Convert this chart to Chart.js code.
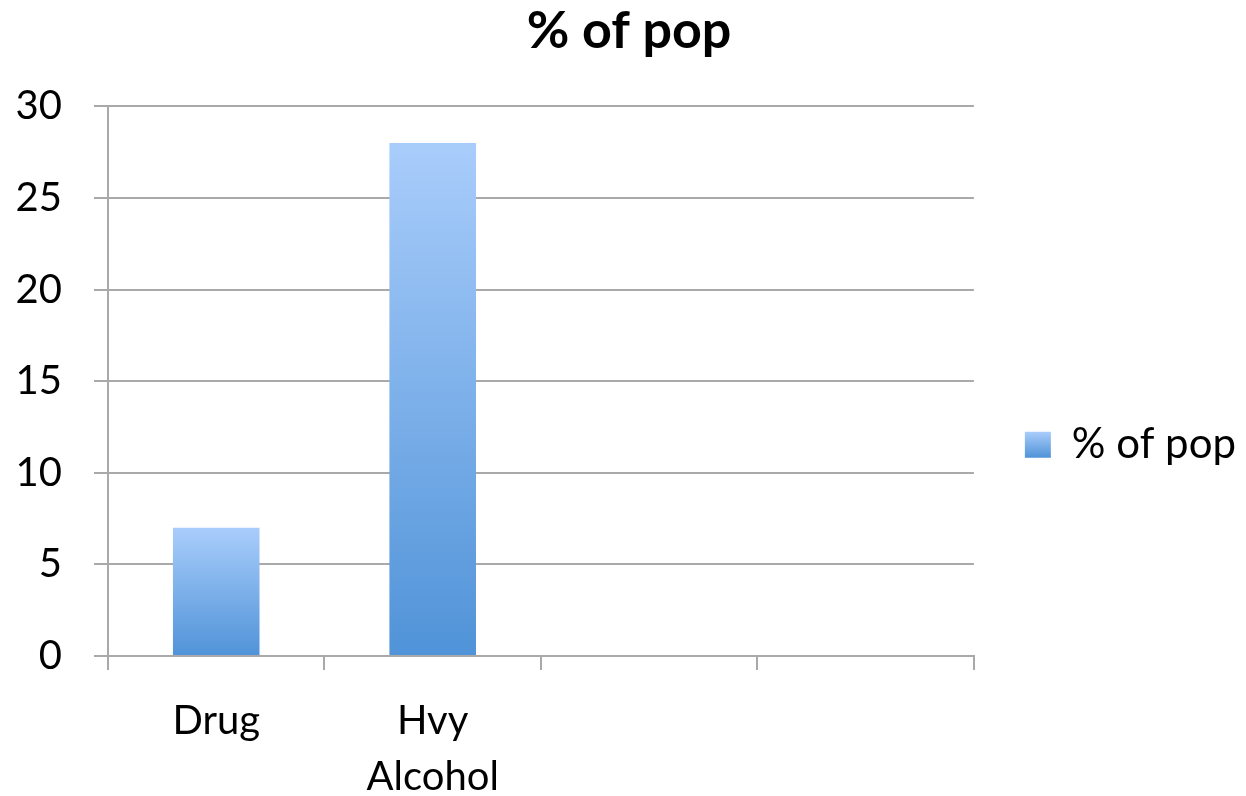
<!DOCTYPE html>
<html lang="en">
  <head>
    <meta charset="UTF-8" />
    <title>% of pop</title>
    <script src="https://cdn.jsdelivr.net/npm/chart.js@4/dist/chart.umd.min.js"></script>
    <style>
      body { margin: 0; background: #fff; }
      #wrap { width: 1246px; height: 796px; }
    </style>
  </head>
  <body>
    <div id="wrap">
      <canvas id="myChart" width="1246" height="796"></canvas>
    </div>

    <script>
      // data
      const categories = ["Drug", ["Hvy", "Alcohol"], "", ""];
      const pctOfPop = [7, 28, null, null];
      const seriesName = "% of pop";

      const topBlue = "#a9cdfb";
      const bottomBlue = "#5093d8";

      // vertical gradient running over one bar, light at the top
      function barGradient(context) {
        const chart = context.chart;
        const y = chart.scales.y;
        if (!y || !chart.chartArea) return bottomBlue;
        const v = context.raw;
        if (v == null) return bottomBlue;
        const top = y.getPixelForValue(v);
        const base = y.getPixelForValue(0);
        const g = chart.ctx.createLinearGradient(0, top, 0, base);
        g.addColorStop(0, topBlue);
        g.addColorStop(1, bottomBlue);
        return g;
      }

      // gives the legend box the same gradient once it has a position
      const legendGradient = {
        id: "legendGradient",
        beforeDraw(chart) {
          const lg = chart.legend;
          if (!lg || !lg.legendHitBoxes || !lg.legendHitBoxes.length) return;
          const hb = lg.legendHitBoxes[0];
          const bw = lg.options.labels.boxHeight;
          const top = hb.top + (hb.height - bw) / 2;
          const g = chart.ctx.createLinearGradient(0, top, 0, top + bw);
          g.addColorStop(0, topBlue);
          g.addColorStop(1, bottomBlue);
          lg.legendItems[0].fillStyle = g;
        },
      };

      const font = "Lato, 'Open Sans', sans-serif";

      const ctx = document.getElementById("myChart").getContext("2d");
      const myChart = new Chart(ctx, {
        type: "bar",
        data: {
          labels: categories,
          datasets: [
            {
              label: seriesName,
              data: pctOfPop,
              backgroundColor: barGradient,
              borderWidth: 0,
              categoryPercentage: 0.8,
              barPercentage: 0.5,
            },
          ],
        },
        plugins: [legendGradient],
        options: {
          responsive: false,
          animation: false,
          layout: { padding: { left: 12, right: 0, top: 0, bottom: 0 } },
          plugins: {
            title: {
              display: true,
              text: "% of pop",
              color: "#000",
              font: { family: font, size: 52, weight: "bold", lineHeight: 1.2 },
              padding: { top: 0, bottom: 44 },
            },
            legend: {
              position: "right",
              fullSize: false,
              // empty title only pushes the entry down
              title: { display: true, text: " ", font: { size: 1, lineHeight: 1 }, padding: { top: 0, bottom: 126 } },
              labels: {
                color: "#000",
                font: { family: font, size: 42 },
                boxWidth: 26,
                boxHeight: 26,
                padding: 51,
              },
            },
            tooltip: { enabled: false },
          },
          scales: {
            x: {
              afterFit: (s) => { s.height = 140; },
              grid: {
                drawOnChartArea: false,
                color: "#a9a9a9",
                lineWidth: 2,
                tickLength: 14,
                tickColor: "#a9a9a9",
              },
              border: { color: "#a9a9a9", width: 2 },
              ticks: {
                color: "#000",
                font: { family: font, size: 40, lineHeight: 1.4 },
                padding: 23,
                maxRotation: 0,
                autoSkip: false,
              },
            },
            y: {
              min: 0,
              max: 30,
              afterFit: (s) => { s.width = 96; },
              grid: {
                color: "#a9a9a9",
                lineWidth: 2,
                tickLength: 14,
                tickColor: "#a9a9a9",
              },
              border: { color: "#a9a9a9", width: 2 },
              ticks: {
                stepSize: 5,
                color: "#000",
                font: { family: font, size: 40 },
                padding: 32,
              },
            },
          },
        },
      });
    </script>
  </body>
</html>
